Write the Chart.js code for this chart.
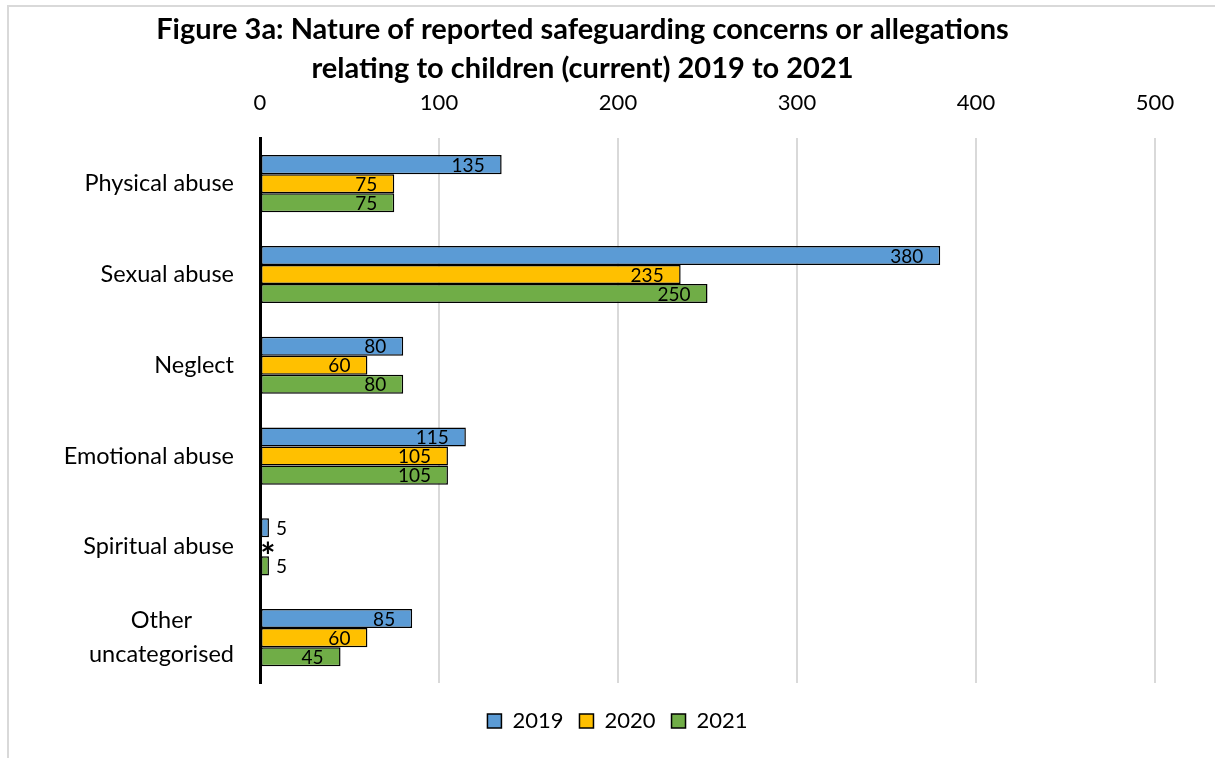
<!DOCTYPE html>
<html>
<head>
<meta charset="utf-8">
<title>Figure 3a</title>
<script src="https://cdn.jsdelivr.net/npm/chart.js@4.4.1/dist/chart.umd.min.js"></script>
<style>
  html, body { margin: 0; padding: 0; background: #fff; }
  #frame {
    position: absolute; left: 7px; top: 5px;
    width: 1240px; height: 780px;
    border: 2px solid #d9d9d9;
  }
  #wrap { position: absolute; left: 0; top: 0; width: 1215px; height: 758px; }
</style>
</head>
<body>
<div id="frame"></div>
<div id="wrap"><canvas id="abuseChart" width="1215" height="758"></canvas></div>
<script>
const categories = ['Physical abuse', 'Sexual abuse', 'Neglect', 'Emotional abuse', 'Spiritual abuse', ['Other', 'uncategorised']];
const years = ['2019', '2020', '2021'];
const values2019 = [135, 380, 80, 115, 5, 85];
const values2020 = [75, 235, 60, 105, null, 60];   // null = suppressed, shown as *
const values2021 = [75, 250, 80, 105, 5, 45];
const xTicks = [0, 100, 200, 300, 400, 500];

const colours = ['#5b9bd5', '#ffc000', '#70ad47'];
const fontFamily = 'Lato, "Open Sans", sans-serif';

// category labels drawn by hand so the two-line one can be centred
const categoryLabels = {
    id: 'categoryLabels',
    afterDraw(chart) {
        const ctx = chart.ctx;
        const y = chart.scales.y;
        const right = chart.chartArea.left - 26;
        ctx.save();
        ctx.font = '23.5px ' + fontFamily;
        ctx.fillStyle = '#000';
        ctx.textBaseline = 'middle';
        categories.forEach((label, i) => {
            const lines = Array.isArray(label) ? label : [label];
            const cy = y.getPixelForTick(i);
            const widest = Math.max(...lines.map(l => ctx.measureText(l).width));
            const lineH = 34;
            lines.forEach((line, j) => {
                const ly = cy + (j - (lines.length - 1) / 2) * lineH;
                if (lines.length > 1) {
                    ctx.textAlign = 'center';
                    ctx.fillText(line, right - widest / 2, ly);
                } else {
                    ctx.textAlign = 'right';
                    ctx.fillText(line, right, ly);
                }
            });
        });
        ctx.restore();
    }
};

// value labels: inside the bar end, or just outside when the bar is too short
const valueLabels = {
    id: 'valueLabels',
    afterDatasetsDraw(chart) {
        const ctx = chart.ctx;
        ctx.save();
        ctx.font = '19px ' + fontFamily;
        ctx.fillStyle = '#000';
        ctx.textBaseline = 'middle';
        chart.data.datasets.forEach((ds, di) => {
            const meta = chart.getDatasetMeta(di);
            meta.data.forEach((bar, i) => {
                const v = ds.data[i];
                if (v === null) {
                    ctx.save();
                    ctx.font = 'bold 36px ' + fontFamily;
                    ctx.textAlign = 'center';
                    ctx.fillText('*', chart.chartArea.left + 8, bar.y + 11);
                    ctx.restore();
                    return;
                }
                const text = String(v);
                const w = ctx.measureText(text).width;
                const len = bar.x - bar.base;
                if (len > w + 20) {
                    ctx.textAlign = 'right';
                    ctx.fillText(text, bar.x - 17, bar.y + 1);
                } else {
                    ctx.textAlign = 'left';
                    ctx.fillText(text, bar.x + 7, bar.y + 1);
                }
            });
        });
        ctx.restore();
    }
};

// legend sits a little right of the title's centre line and a bit lower
const legendShift = {
    id: 'legendShift',
    afterLayout(chart) {
        const lg = chart.legend;
        if (!lg) return;
        lg.left += 35;
        lg.right += 35;
        lg.top += 11;
        lg.bottom += 11;
        lg.adjustHitBoxes();
    }
};

new Chart(document.getElementById('abuseChart'), {
    type: 'bar',
    data: {
        labels: categories,
        datasets: [
            { label: years[0], data: values2019, backgroundColor: colours[0] },
            { label: years[1], data: values2020, backgroundColor: colours[1] },
            { label: years[2], data: values2021, backgroundColor: colours[2] }
        ].map(d => Object.assign(d, {
            borderColor: '#000',
            borderWidth: 1.5,
            borderSkipped: false,
            categoryPercentage: 0.63,
            barPercentage: 1
        }))
    },
    options: {
        indexAxis: 'y',
        responsive: false,
        animation: false,
        layout: { padding: { left: 10, right: 60, top: 4, bottom: 27 } },
        scales: {
            x: {
                position: 'top',
                min: 0,
                max: 500,
                afterBuildTicks(scale) {
                    scale.ticks = xTicks.map(v => ({ value: v }));
                },
                afterFit(scale) { scale.height = 46; },
                grid: { color: '#d9d9d9', lineWidth: 2, drawTicks: false },
                border: { display: false },
                ticks: {
                    padding: 22,
                    color: '#000',
                    font: { family: fontFamily, size: 22 }
                }
            },
            y: {
                afterFit(scale) { scale.width = 250; },
                grid: { display: false, drawTicks: false },
                border: { display: true, color: '#000', width: 3 },
                ticks: { display: false }
            }
        },
        plugins: {
            title: {
                display: true,
                text: ['Figure 3a: Nature of reported safeguarding concerns or allegations',
                       'relating to children (current) 2019 to 2021'],
                color: '#000',
                font: { family: fontFamily, size: 29, weight: 'bold', lineHeight: 1.35 },
                padding: { top: 6, bottom: 4 }
            },
            legend: {
                position: 'bottom',
                labels: {
                    boxWidth: 14,
                    boxHeight: 14,
                    padding: 16,
                    color: '#000',
                    font: { family: fontFamily, size: 22 },
                    generateLabels(chart) {
                        return chart.data.datasets.map((ds, i) => ({
                            text: ds.label,
                            fillStyle: ds.backgroundColor,
                            strokeStyle: '#000',
                            lineWidth: 1.5,
                            datasetIndex: i
                        }));
                    }
                }
            },
            tooltip: { enabled: false }
        }
    },
    plugins: [categoryLabels, valueLabels, legendShift]
});
</script>
</body>
</html>
